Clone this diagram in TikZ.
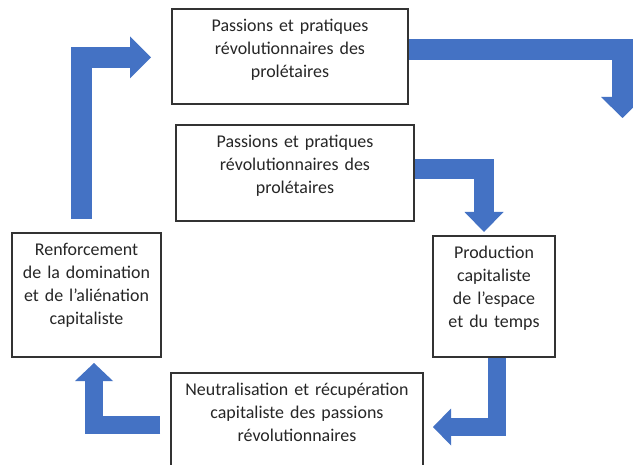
\documentclass[tikz,border=0pt]{standalone}
\usepackage{fontspec}
\setmainfont{Carlito}
\usetikzlibrary{arrows.meta,calc}
\definecolor{arrow blue}{HTML}{4472C4}
\definecolor{box edge}{HTML}{333333}
\begin{document}
\begin{tikzpicture}[x=1bp,y=-1bp,
  box/.style={draw=box edge, line width=1.7bp, fill=white, anchor=north, inner sep=0pt,
    align=center, text width=#1, text=black!85, text height=23bp, font=\fontsize{18}{23}\selectfont},
  flow/.style 2 args={draw=arrow blue, line width=#1, -{Triangle[width=#2, length=#1, line width=0pt]}}]
\useasboundingbox (0,0) rectangle (633,465);
\fill[white] (0,0) rectangle (633,465);

    \node[box=236bp, text depth=72bp] (top) at (290,8) {Passions et pratiques\\ révolutionnaires des\\ prolétaires};
    \node[box=238bp, text depth=73bp] (mid) at (295,124) {Passions et pratiques\\ révolutionnaires des\\ prolétaires};
    \node[box=122bp, text depth=98bp] (prod) at (494,235) {Production\\ capitaliste\\ de l’espace\\ et du temps};
    \node[box=252bp, text depth=80bp] (neutr) at (297,372) {Neutralisation et récupération\\ capitaliste des passions\\ révolutionnaires};
    \node[box=149bp, text depth=101bp] (renf) at (86.5,232) {Renforcement\\ de la domination\\ et de l’aliénation\\ capitaliste};

    \coordinate (t1) at (622.5,118);
    \coordinate (t2) at (484,232);
    \coordinate (t3) at (433,427);
    \coordinate (t4) at (94,363);
    \coordinate (t5) at (151,57.5);
    \coordinate (s4) at ($(neutr.north west)+(-10,53)$);

\draw[flow={21bp}{43bp}] ($(top.east)+(0,-7)$) -| (t1);
\draw[flow={20bp}{39bp}] ($(mid.east)+(0,-4)$) -| (t2);
\draw[flow={18bp}{37bp}] ($(prod.south)+(3,0)$) |- (t3);
\draw[flow={18bp}{38bp}] (s4) -| (t4);
\draw[flow={21bp}{42bp}] ($(renf.north)+(-5,-13)$) |- (t5);

\end{tikzpicture}
\end{document}
